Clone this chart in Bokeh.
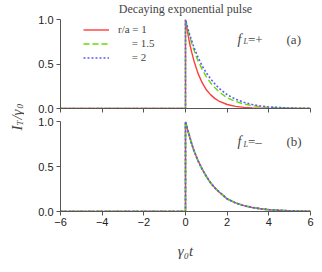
from bokeh.plotting import figure
from bokeh.layouts import row, column
from bokeh.models import (Range1d, FixedTicker, Label, Legend, LegendItem,
                          PrintfTickFormatter)
from bokeh.embed import file_html
from bokeh.resources import INLINE

# ---- data ----
t = [-6.0, 0.0, 0.0, 0.1, 0.2, 0.3, 0.4, 0.6, 0.8, 1.0, 1.2, 1.4, 1.6, 2.0,
     2.4, 2.8, 3.2, 3.6, 4.0, 5.0, 6.0]
# panel (a), f_L = +
a_r1 = [0.0, 0.0, 1.0, 0.86, 0.73, 0.63, 0.54, 0.395, 0.29, 0.21, 0.156, 0.114,
        0.084, 0.045, 0.024, 0.013, 0.007, 0.004, 0.002, 0.0, 0.0]
a_r15 = [0.0, 0.0, 1.0, 0.90, 0.81, 0.73, 0.66, 0.535, 0.44, 0.355, 0.29, 0.235,
         0.19, 0.12, 0.08, 0.05, 0.032, 0.02, 0.012, 0.004, 0.001]
a_r2 = [0.0, 0.0, 1.0, 0.91, 0.83, 0.76, 0.69, 0.575, 0.48, 0.40, 0.335, 0.28,
        0.23, 0.155, 0.105, 0.07, 0.045, 0.028, 0.017, 0.005, 0.001]
# panel (b), f_L = -
b_r1 = [0.0, 0.0, 1.0, 0.91, 0.83, 0.75, 0.68, 0.565, 0.47, 0.39, 0.32, 0.265,
        0.22, 0.14, 0.095, 0.065, 0.045, 0.03, 0.02, 0.007, 0.002]
b_r15 = list(b_r1)
b_r2 = list(b_r1)

x_ticks = [-6, -4, -2, 0, 2, 4, 6]
y_ticks = [0.0, 0.5, 1.0]
series_labels = ["r/a = 1", "\u00a0\u00a0\u00a0\u00a0\u00a0= 1.5", "\u00a0\u00a0\u00a0\u00a0\u00a0= 2"]

RED = "#ff3b3b"
GREEN = "#66dd00"
BLUE = "#5a5aff"
SERIF = "Liberation Serif"
SANS = "Liberation Sans"
AX = "#555555"


def style(p, show_xlabels):
    p.x_range = Range1d(-6, 6)
    p.y_range = Range1d(0, 1.0)
    p.xgrid.visible = False
    p.ygrid.visible = False
    p.outline_line_color = None
    p.background_fill_color = "white"
    for ax in (p.xaxis[0], p.yaxis[0]):
        ax.axis_line_color = AX
        ax.major_tick_line_color = AX
        ax.minor_tick_line_color = None
        ax.major_tick_in = 0
        ax.major_tick_out = 4
        ax.major_label_text_font = SANS
        ax.major_label_text_font_size = "11px"
        ax.major_label_text_color = "#222222"
    p.xaxis[0].ticker = FixedTicker(ticks=x_ticks)
    p.yaxis[0].ticker = FixedTicker(ticks=y_ticks)
    p.yaxis[0].formatter = PrintfTickFormatter(format="%.1f")
    p.yaxis[0].major_label_standoff = 3
    if not show_xlabels:
        p.xaxis[0].major_label_text_font_size = "1px"
        p.xaxis[0].major_label_text_color = None
        p.xaxis[0].major_label_standoff = 0
    else:
        p.xaxis[0].major_label_standoff = 2


def draw(p, ys, widths):
    rs = []
    cols = [RED, GREEN, BLUE]
    dashes = ["solid", "6 3", "2 2"]
    for y, c, d, w in zip(ys, cols, dashes, widths):
        rs.append(p.line(t, y, line_color=c, line_dash=d, line_width=w))
    return rs


# ---- top panel ----
top = figure(width=290, height=115, output_backend="svg", toolbar_location=None,
             min_border_left=36, min_border_right=4, min_border_top=18,
             min_border_bottom=7, title="Decaying exponential pulse")
style(top, False)
top.title.text_font = SERIF
top.title.text_font_size = "12px"
top.title.text_font_style = "normal"
top.title.align = "center"
top.title.vertical_align = "top"
top.title.standoff = 3
top.title.offset = 5
rs_a = draw(top, [a_r1, a_r15, a_r2], [1.4, 1.4, 1.6])
legend = Legend(items=[LegendItem(label=s, renderers=[r]) for s, r in zip(series_labels, rs_a)],
                location=(23, 45), padding=0, margin=0, spacing=2,
                glyph_width=26, glyph_height=11, label_height=11,
                label_standoff=9, label_text_font=SERIF, label_text_font_size="11px",
                border_line_color=None, background_fill_alpha=0)
top.add_layout(legend)

# ---- bottom panel ----
bot = figure(width=290, height=149, output_backend="svg", toolbar_location=None,
             min_border_left=36, min_border_right=4, min_border_top=6,
             min_border_bottom=53)
style(bot, True)
draw(bot, [b_r1, b_r15, b_r2], [1.4, 1.8, 1.8])
bot.xaxis[0].axis_label = "\u03b3\u2080t"
bot.xaxis[0].axis_label_text_font = SERIF
bot.xaxis[0].axis_label_text_font_size = "15px"
bot.xaxis[0].axis_label_text_font_style = "italic"
bot.xaxis[0].axis_label_standoff = 14

for p, sign, tag in ((top, "+", "(a)"), (bot, "\u2013", "(b)")):
    p.add_layout(Label(x=2.5, y=0.78, text="f", text_font=SERIF, text_font_size="14px",
                       text_font_style="italic", text_baseline="alphabetic"))
    p.add_layout(Label(x=2.78, y=0.75, text="L", text_font=SERIF, text_font_size="8px",
                       text_font_style="italic", text_baseline="alphabetic"))
    p.add_layout(Label(x=3.0, y=0.78, text="=" + sign, text_font=SERIF, text_font_size="13px",
                       text_baseline="alphabetic"))
    p.add_layout(Label(x=4.85, y=0.78, text=tag, text_font=SERIF, text_font_size="13px",
                       text_baseline="alphabetic"))

# ---- rotated y-axis label ----
lab = figure(width=24, height=264, output_backend="svg", toolbar_location=None,
             min_border=0, x_range=Range1d(0, 24), y_range=Range1d(0, 264))
lab.axis.visible = False
lab.grid.visible = False
lab.outline_line_color = None
pieces = [("I", 16, 134, "15px"), ("T", 19, 139, "9px"), ("/", 16, 145, "15px"),
          ("\u03b3", 16, 149, "15px"), ("0", 19, 156, "9px")]
for txt, x, y, fs in pieces:
    lab.add_layout(Label(x=x, y=y, text=txt, angle=1.5708, text_font=SERIF,
                         text_font_size=fs, text_font_style="italic",
                         text_baseline="alphabetic", text_align="left"))

layout = row(lab, column(top, bot))
open("out.html", "w").write(file_html(layout, INLINE))
